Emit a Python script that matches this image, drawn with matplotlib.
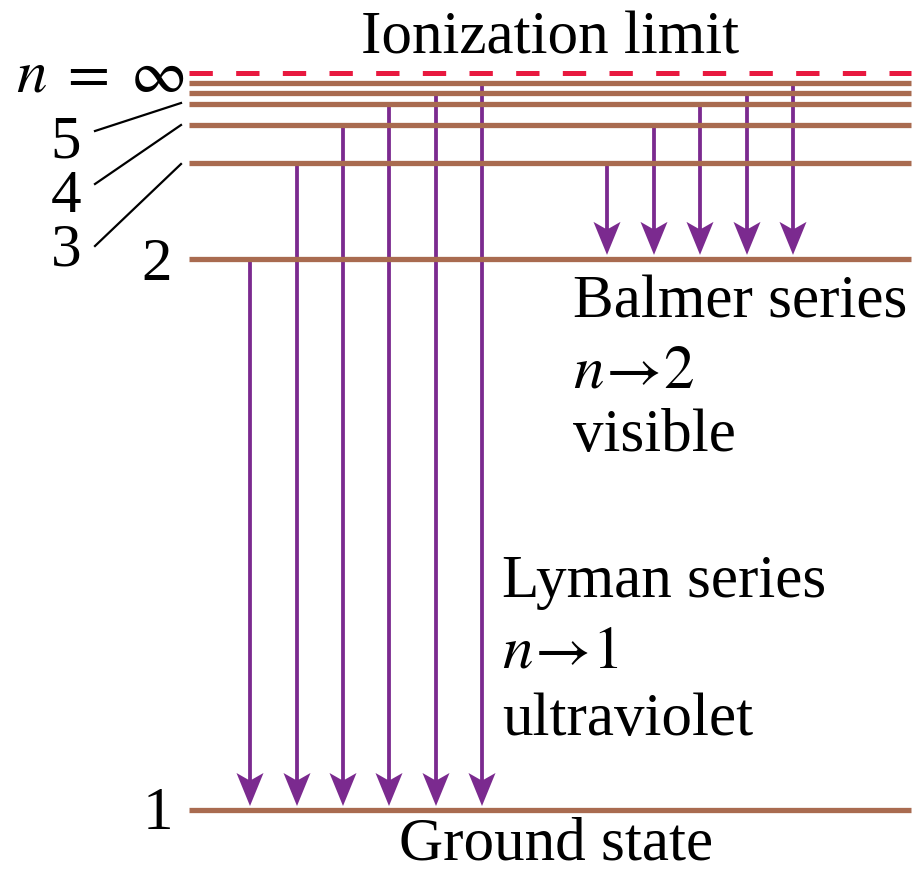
#!/usr/bin/env python3
"""Hydrogen energy-level diagram with Lyman and Balmer series."""

import matplotlib

matplotlib.use("Agg")
import matplotlib.pyplot as plt
import matplotlib.transforms as mtransforms
from matplotlib.lines import Line2D

# Level energies above the ground state (eV)
levels_n = [1, 2, 3, 4, 5, 6, 7]
levels_ev = [0.0, 10.17, 11.94, 12.64, 13.03, 13.23, 13.42]
ionization_ev = 13.6

# transitions: (upper level, lower level)
lyman = [(2, 1), (3, 1), (4, 1), (5, 1), (6, 1), (7, 1)]
balmer = [(3, 2), (4, 2), (5, 2), (6, 2), (7, 2)]

side_labels = ["5", "4", "3"]

W, H = 917, 874
LEVEL_COLOR = "#a96b50"
LIMIT_COLOR = "#e8193f"
ARROW_COLOR = "#7b2a8f"
FONT = "Liberation Serif"
FS = 44

plt.rcParams["mathtext.fontset"] = "stix"
plt.rcParams["lines.scale_dashes"] = False

fig = plt.figure(figsize=(W / 100, H / 100), dpi=100)
ax = fig.add_axes([0, 0, 1, 1])
ax.set_axis_off()

# vertical scale: 737 px per 13.6 eV, ground state at pixel row 810
px_per_ev = 737 / ionization_ev
ax.set_xlim(0, W)
ax.set_ylim((810 - H) / px_per_ev, 810 / px_per_ev)

# image-pixel transform for text & leader lines (y downwards)
px = mtransforms.Affine2D().scale(1 / W, -1 / H).translate(0, 1) + fig.transFigure

energy = dict(zip(levels_n, levels_ev))
x0, x1 = 189, 911
for e in levels_ev:
    ax.plot([x0, x1], [e, e], color=LEVEL_COLOR, lw=3.8, solid_capstyle="butt")
ax.plot([x0, x1], [ionization_ev] * 2, color=LIMIT_COLOR, lw=3.6,
        dashes=(16.8, 16.8), dash_capstyle="butt")


def draw_arrows(series, xs):
    for (upper, lower), x in zip(series, xs):
        start = energy[upper]
        tip = energy[lower] + 4 / px_per_ev
        ax.arrow(x, start, 0, tip - start, width=3.8, head_width=27,
                 head_length=33 / px_per_ev, overhang=0.2,
                 length_includes_head=True, color=ARROW_COLOR, lw=0)


draw_arrows(lyman, [250, 297, 343, 389, 436, 482])
draw_arrows(balmer, [607, 654, 700, 747, 793])

text_kw = dict(transform=px, fontsize=FS, family=FONT, va="baseline")
ax.text(550, 53, "Ionization limit", ha="center", **text_kw)
ax.text(556, 860, "Ground state", ha="center", **text_kw)
ax.text(16, 91, r"$n\;=\;\infty$", ha="left", **text_kw)

for label, base in zip(side_labels, [158, 212, 266]):
    ax.text(66, base, label, ha="center", **text_kw)
ax.text(157, 280, "2", ha="center", **text_kw)
ax.text(158, 829, "1", ha="center", **text_kw)

for (xa, ya), (xb, yb) in [((95, 131), (181, 103)), ((95, 184), (181, 125)),
                           ((95, 246), (181, 164))]:
    fig.add_artist(Line2D([xa, xb], [ya, yb], transform=px, color="black", lw=1.6))

ax.text(573, 317, "Balmer series", ha="left", **text_kw)
ax.text(573, 387, r"$n\!\rightarrow\!2$", ha="left", **text_kw)
ax.text(573, 451, "visible", ha="left", **text_kw)

ax.text(502, 597, "Lyman series", ha="left", **text_kw)
ax.text(502, 667, r"$n\!\rightarrow\!1$", ha="left", **text_kw)
ax.text(502, 735, "ultraviolet", ha="left", **text_kw)

fig.savefig("out.png", dpi=100, facecolor="white")
